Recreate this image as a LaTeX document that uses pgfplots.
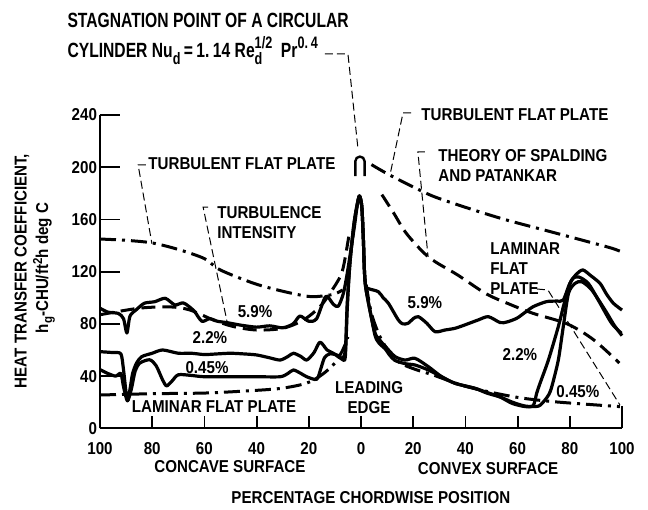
\documentclass[border=0pt]{standalone}
\usepackage{pgfplots}
\pgfplotsset{compat=1.18}
\usepackage{fontspec}
\setmainfont{Liberation Sans}[FakeStretch=0.88]
\newfontfamily\titlefont{Liberation Sans}[FakeStretch=0.76]
\newcommand\af{\fontsize{8.6}{10}\selectfont\bfseries}
\newcommand\tf{\titlefont\fontsize{10.3}{12}\selectfont\bfseries}
\newcommand\tsub[1]{\raisebox{-3.2pt}{\fontsize{8.3}{9}\selectfont #1}}
\newcommand\tsup[1]{\raisebox{4.6pt}{\fontsize{8.3}{9}\selectfont #1}}
\pgfdeclareplotmark{arch}{%
  \pgfpathmoveto{\pgfpoint{-2.3pt}{-5pt}}%
  \pgfpathlineto{\pgfpoint{-2.3pt}{2.5pt}}%
  \pgfpatharc{180}{0}{2.3pt}%
  \pgfpathlineto{\pgfpoint{2.3pt}{-5pt}}%
  \pgfusepathqstroke}
\tikzset{
  solidc/.style={black, line width=1.6pt, line join=round, smooth, tension=0.45},
  dashdot/.style={black, line width=1.5pt, smooth, dash pattern=on 8pt off 3pt on 1.5pt off 3pt},
  dashedc/.style={black, line width=1.5pt, smooth, dash pattern=on 7pt off 3.5pt},
  leader/.style={black, line width=0.5pt, dash pattern=on 4pt off 2pt},
}
\begin{document}
\begin{tikzpicture}
\useasboundingbox (-50pt,-40.35pt) rectangle (274pt,214.15pt);
\begin{axis}[
  scale only axis, width=261pt, height=156.65pt,
  xmin=-100, xmax=100, ymin=0, ymax=240,
  axis x line=bottom, axis y line=left,
  axis line style={-, line width=1pt},
  clip=false,
  tick align=inside, major tick length=6pt,
  tick style={black, line width=0.9pt},
  xtick={-100,-80,-60,-40,-20,0,20,40,60,80},
  xticklabels={100,80,60,40,20,0,20,40,60,80},
  extra x ticks={100}, extra x tick labels={100},
  extra x tick style={major tick length=11pt},
  ytick=\empty,
  extra y ticks={0,40,80,120,160,200,240},
  extra y tick style={major tick length=10pt},
  /pgf/number format/assume math mode=true,
  xticklabel style={font=\af, yshift=-3.5pt},
  yticklabel style={font=\af, xshift=2pt},
]
% turbulent flat plate, concave
\addplot[dashdot, no marks] coordinates {(-100,145) (-90,144) (-80,142) (-70,137) (-60,130) (-54,121.4) (-41,111) (-30,105) (-20,101) (-14,101.5) (-10,103) (-7,106)};
% turbulent flat plate, convex
\addplot[dashdot, no marks] coordinates {(4,202) (11,194) (24,181) (30,176) (42,168) (55,160) (70,152) (85,144) (96,138) (100,135)};
% Spalding & Patankar, convex
\addplot[dashedc, no marks] coordinates {(8,179) (12.5,165) (17.5,149) (26,131) (37,117.5) (48,103) (57,95) (66,88) (79,80) (89,68) (99,50)};
% Spalding & Patankar, concave
\addplot[dashedc, no marks] coordinates {(-100,87) (-85,92) (-73,93) (-65.5,90.6) (-56.6,83) (-49,78) (-40,75.3) (-30,76.6) (-22,83) (-15.7,93.2) (-11.9,103.4) (-8,116) (-6.5,126) (-4.5,149)};
% laminar flat plate, concave
\addplot[dashdot, no marks] coordinates {(-100,25.5) (-80,26.5) (-60,27) (-45,28.5) (-31,30.5) (-21,34.5) (-15,41) (-10,50) (-7,60) (-5,70)};
% laminar flat plate, convex
\addplot[dashdot, no marks] coordinates {(2,110) (4,88) (7.3,70) (11,58) (15,50) (21,45) (27.7,40.8) (40.5,31.9) (58.4,24.2) (73.7,20.4) (99.2,16.6)};
% 5.9 %
\addplot[solidc, no marks] coordinates {(-100,92) (-97,89) (-93,88) (-91,84) (-89.7,73) (-88.5,86) (-86,91) (-83,95.8) (-79,97) (-75,99.6) (-71.3,94.5) (-68,96) (-64,90) (-61,82) (-58,84) (-55,82) (-51.5,81) (-46,79) (-40,77.5) (-35,78.5) (-30,77) (-26,80) (-23.4,86) (-20,82) (-17,84) (-13.5,101) (-10.6,95) (-8.7,93.5) (-6.8,103) (-5.5,116) (-4,135) (-2.5,155) (-1.5,170) (-0.6,178) (0.3,170) (0.9,145) (1.3,121) (1.8,109) (2.8,107) (6.6,104.7) (8.5,100) (10.5,95.8) (14.3,83) (16,80) (18.1,80.5) (20,84) (22,85.5) (25.2,80.5) (28.4,74) (32.2,75.3) (36,76.6) (39.8,79.2) (44.9,83) (48.8,85.5) (53.3,81) (56,81.5) (59.7,84.3) (63,89) (66,93.2) (71,97) (75,97.5) (77.5,98.3) (80,111) (82.5,118) (85,121.3) (88,117) (91.6,111) (94,103) (96.7,95.8) (100,90.6)};
% 2.2 %
\addplot[solidc, no marks] coordinates {(-100,58.7) (-95,58) (-92,57) (-91,45) (-90,27) (-89.4,21.5) (-88.5,30) (-87.5,42) (-86,50) (-84,54.9) (-80,57.5) (-76,60) (-70,57.5) (-65,57.5) (-60,56.5) (-55,57) (-50,57.5) (-45,57) (-40,56.2) (-35,54) (-31,52.3) (-28,55) (-25.9,57.5) (-23,55) (-20.8,52.3) (-18,58) (-15.7,66) (-13,60) (-10.6,57.5) (-7.4,53.6) (-6,60) (-5.3,95) (-4.3,125) (-2.8,155) (-1.6,170) (-0.6,178) (0.3,170) (0.9,145) (1.3,121) (1.8,108) (3.4,90.6) (5.4,73) (7,68) (9.2,63) (13,55) (16.9,52.3) (20.7,53.6) (25.8,47.2) (30.9,39.5) (36,34.5) (43.7,30.6) (48.2,27.5) (53.3,24) (58,19) (63,16.6) (66,17.5) (67.3,26.8) (68.6,34.5) (71.8,52.3) (75.6,77.9) (78.2,98.3) (80.7,113.6) (83.3,116) (87.1,111) (90.9,98.3) (96,80.5) (99.8,72.8)};
% 0.45 %
\addplot[solidc, no marks] coordinates {(-100,45) (-97,42) (-94,40) (-92,42) (-91,32) (-89.5,21) (-88,30) (-86.5,44) (-84.7,50) (-81,52.5) (-78.5,48) (-76,37) (-74.5,32.5) (-72.5,36) (-70,41) (-65,40.5) (-60,39.5) (-50,39.5) (-40,39.5) (-31,39.5) (-28,42) (-25.9,44.7) (-23,42) (-20.8,39.5) (-17,37.5) (-15.5,45) (-14,54) (-12,57) (-9,56) (-7,52.5) (-6,55) (-5.3,90) (-4.3,125) (-2.8,155) (-1.6,170) (-0.6,178) (0.3,170) (0.9,145) (1.3,121) (1.8,108) (3.4,90.6) (5.4,71) (7,65) (9.2,61) (11,56) (13,52) (16.9,49.5) (20.7,48.5) (25.8,44.7) (30.9,39.5) (36,34.5) (43.7,30.6) (48.2,27) (53.3,24) (58,20) (63,17) (68,17) (70.5,21.7) (72,26) (73.1,31.9) (75.6,52.3) (77.5,77.9) (79.5,103.4) (82,111) (84.6,112.3) (88.4,106) (93.5,90.6) (97,79) (100,71)};
% stagnation point of a circular cylinder
\addplot[black, line width=1.2pt, only marks, mark=arch] coordinates {(-0.4,200.8)};

% leaders
\draw[leader] (-13.8,286.8) -- (-5,286.8) -- (-1.1,213);
\draw[leader] (-82.4,201.8) -- (-85.4,201.8) -- (-80.1,141.4);
\draw[leader] (-58.6,169.5) -- (-60.5,169.5) -- (-51.3,81.6);
\draw[leader] (19.2,241.6) -- (16.1,241.6) -- (11.1,194);
\draw[leader] (24.5,211.7) -- (21.8,211.7) -- (25.7,131.3);
\draw[leader] (67.4,106.7) -- (71.6,106) -- (99.2,17.9);

% annotations
\node[anchor=base west, font=\tf, inner sep=0pt] at (-112.6,306.8) {STAGNATION POINT OF A CIRCULAR};
\node[anchor=base west, font=\tf, inner sep=0pt] at (-112.6,283.8) {CYLINDER Nu\tsub{d}\,=\,1.\,14 Re\rlap{\tsub{d}}\tsup{1/2}\ \ Pr\tsup{0.\,4}};
\node[anchor=west, font=\af, inner sep=0pt] at (-81.6,202.5) {TURBULENT FLAT PLATE};
\node[anchor=west, font=\af, inner sep=0pt, align=left] at (-55.2,157.6) {TURBULENCE\\INTENSITY};
\node[anchor=west, font=\af, inner sep=0pt] at (23,240) {TURBULENT FLAT PLATE};
\node[anchor=west, font=\af, inner sep=0pt, align=left] at (29.5,201) {THEORY OF SPALDING\\AND PATANKAR};
\node[anchor=west, font=\af, inner sep=0pt, align=left] at (49.4,122.5) {LAMINAR\\FLAT\\PLATE};
\node[font=\af] at (-40.6,89.1) {5.9\%};
\node[font=\af] at (-57.9,69.2) {2.2\%};
\node[font=\af] at (-59,46.2) {0.45\%};
\node[font=\af] at (-56.3,16.3) {LAMINAR FLAT PLATE};
\node[font=\af, align=center] at (3.1,23.6) {LEADING\\EDGE};
\node[font=\af] at (24.5,96) {5.9\%};
\node[font=\af] at (60.9,56.2) {2.2\%};
\node[font=\af] at (83.1,27.8) {0.45\%};
\node[font=\af] at (-50.2,-29.5) {CONCAVE SURFACE};
\node[font=\af] at (48.7,-31) {CONVEX SURFACE};
\node[font=\af] at (3.8,-53) {PERCENTAGE CHORDWISE POSITION};
\node[font=\af, rotate=90] at (-129.9,120.5) {HEAT TRANSFER COEFFICIENT,};
\node[font=\af, rotate=90] at (-121.5,122.8) {h\raisebox{-2pt}{\fontsize{6.5}{7}\selectfont g}-CHU/ft\raisebox{3pt}{\fontsize{6.5}{7}\selectfont 2}h deg C};
\end{axis}
\end{tikzpicture}
\end{document}
